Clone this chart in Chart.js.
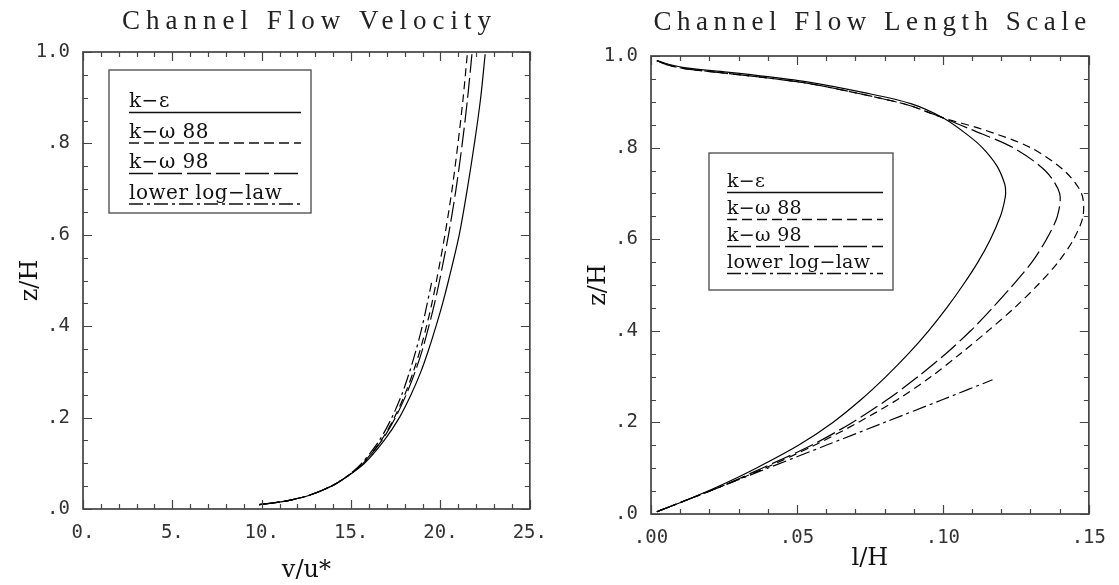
<!DOCTYPE html>
<html><head><meta charset="utf-8">
<script src="https://cdn.jsdelivr.net/npm/chart.js@4.4.1/dist/chart.umd.min.js"></script>
<style>
html,body{margin:0;padding:0;background:#fff;}
#wrap{position:relative;width:1119px;height:585px;overflow:hidden;}
canvas{position:absolute;top:0;}
#c1{left:0;}
#c2{left:560px;}
</style></head><body>
<div id="wrap">
<canvas id="c1" width="560" height="585"></canvas>
<canvas id="c2" width="559" height="585"></canvas>
</div>
<script>
// ---------- Data: Channel Flow Velocity (x = v/u*, y = z/H) ----------
const velZ   = [0.0095, 0.015, 0.02, 0.03, 0.05, 0.07, 0.1, 0.15, 0.2, 0.25, 0.3, 0.35, 0.4, 0.45, 0.5, 0.6, 0.7, 0.8, 0.9, 0.995];
const velKE  = [9.85, 10.97, 11.67, 12.66, 13.9, 14.74, 15.75, 16.85, 17.7, 18.35, 18.9, 19.35, 19.75, 20.12, 20.45, 21.05, 21.5, 21.9, 22.25, 22.5];
const velKW88= [9.85, 10.97, 11.67, 12.66, 13.9, 14.72, 15.65, 16.68, 17.42, 18.0, 18.48, 18.88, 19.22, 19.52, 19.78, 20.25, 20.65, 20.98, 21.27, 21.5];
const velKW98= [9.85, 10.97, 11.67, 12.66, 13.9, 14.73, 15.68, 16.72, 17.48, 18.08, 18.58, 19.0, 19.35, 19.67, 19.95, 20.45, 20.87, 21.22, 21.52, 21.76];
const velLogZ= [0.0095, 0.015, 0.02, 0.03, 0.05, 0.07, 0.1, 0.15, 0.2, 0.25, 0.3, 0.35, 0.4, 0.45, 0.495];
const velLog = [9.85, 10.97, 11.67, 12.66, 13.9, 14.72, 15.59, 16.58, 17.28, 17.83, 18.27, 18.65, 18.98, 19.26, 19.5];

// ---------- Data: Channel Flow Length Scale (x = l/H, y = z/H) ----------
const lenKEZ = [0.005, 0.03, 0.06, 0.1, 0.15, 0.2, 0.25, 0.3, 0.35, 0.4, 0.45, 0.5, 0.55, 0.6, 0.65, 0.68, 0.7, 0.72, 0.76, 0.8, 0.83, 0.865, 0.896, 0.92, 0.943, 0.955, 0.965, 0.974, 0.982, 0.99];
const lenKE  = [0.002, 0.012, 0.023, 0.036, 0.0505, 0.0623, 0.072, 0.0805, 0.0882, 0.0951, 0.1013, 0.1069, 0.112, 0.1163, 0.1197, 0.121, 0.1215, 0.1212, 0.1185, 0.1135, 0.108, 0.1, 0.089, 0.073, 0.054, 0.04, 0.026, 0.012, 0.006, 0.002];
const lenKWZ = [0.005, 0.03, 0.06, 0.1, 0.15, 0.2, 0.25, 0.3, 0.35, 0.4, 0.45, 0.5, 0.55, 0.6, 0.65, 0.7, 0.75, 0.8, 0.84, 0.865, 0.893, 0.917, 0.94, 0.952, 0.962, 0.972, 0.98, 0.99];
const lenKW88= [0.002, 0.012, 0.024, 0.039, 0.056, 0.071, 0.0845, 0.096, 0.106, 0.1155, 0.1245, 0.1325, 0.1395, 0.1448, 0.148, 0.1475, 0.1415, 0.13, 0.1135, 0.1, 0.088, 0.072, 0.054, 0.04, 0.026, 0.012, 0.006, 0.002];
const lenKW98= [0.002, 0.012, 0.024, 0.038, 0.055, 0.069, 0.081, 0.0915, 0.101, 0.1095, 0.117, 0.124, 0.1305, 0.1355, 0.1392, 0.14, 0.135, 0.124, 0.1095, 0.1, 0.088, 0.072, 0.054, 0.04, 0.026, 0.012, 0.006, 0.002];
const lenLogZ= [0.005, 0.05, 0.1, 0.15, 0.2, 0.25, 0.293];
const lenLog = [0.002, 0.02, 0.04, 0.06, 0.08, 0.1, 0.117];

// ---------- Labels and ticks ----------
const seriesLabels = ['k\u2212\u03b5', 'k\u2212\u03c9 88', 'k\u2212\u03c9 98', 'lower log\u2212law'];
const yTickValues = [0, 0.2, 0.4, 0.6, 0.8, 1.0];
const yTickLabels = ['.0', '.2', '.4', '.6', '.8', '1.0'];
const velXTickValues = [0, 5, 10, 15, 20, 25];
const velXTickLabels = ['0.', '5.', '10.', '15.', '20.', '25.'];
const lenXTickValues = [0, 0.05, 0.10, 0.15];
const lenXTickLabels = ['.00', '.05', '.10', '.15'];

const dashes = [[], [8, 5], [20, 5], [14, 4, 3, 4]];
const legendDash = [[], [10, 5], [24, 5], [14, 4, 3, 4]];

function pts(xs, ys) { return xs.map((v, i) => ({ x: v, y: ys[i] })); }

const framePlugin = {
  id: 'frame',
  afterDatasetsDraw(chart, args, o) {
    const { ctx, chartArea: a, scales: { x, y } } = chart;
    ctx.save();
    ctx.strokeStyle = '#444';
    ctx.lineWidth = 1.2;
    ctx.beginPath();
    const nx = Math.round((x.max - x.min) / o.xMinor);
    for (let i = 0; i <= nx; i++) {
      const px = Math.round(x.getPixelForValue(x.min + i * o.xMinor)) + 0.5;
      const len = (i % o.xRatio === 0) ? o.major : o.minor;
      ctx.moveTo(px, a.bottom); ctx.lineTo(px, a.bottom - len);
      ctx.moveTo(px, a.top); ctx.lineTo(px, a.top + len);
    }
    const ny = Math.round((y.max - y.min) / o.yMinor);
    for (let i = 0; i <= ny; i++) {
      const py = Math.round(y.getPixelForValue(y.min + i * o.yMinor)) + 0.5;
      const len = (i % o.yRatio === 0) ? o.major : o.minor;
      ctx.moveTo(a.left, py); ctx.lineTo(a.left + len, py);
      ctx.moveTo(a.right, py); ctx.lineTo(a.right - len, py);
    }
    ctx.stroke();
    ctx.lineWidth = 1.7;
    ctx.strokeRect(a.left, a.top, a.right - a.left, a.bottom - a.top);
    ctx.restore();
  },
  afterDraw(chart, args, o) {
    const { ctx, chartArea: a } = chart;
    ctx.save();
    // title
    ctx.fillStyle = '#222';
    ctx.font = o.titleFont;
    ctx.letterSpacing = o.titleSpacing + 'px';
    ctx.textBaseline = 'alphabetic';
    ctx.textAlign = 'center';
    ctx.fillText(o.title, (a.left + a.right) / 2 + o.titleSpacing / 2, o.titleY);
    ctx.letterSpacing = '0px';
    ctx.textAlign = 'left';
    // legend
    const L = o.legend;
    const bx = a.left + L.dx, by = a.top + L.dy;
    ctx.strokeStyle = '#555';
    ctx.lineWidth = 1.4;
    ctx.strokeRect(bx, by, L.w, L.h);
    ctx.font = L.font;
    ctx.letterSpacing = L.spacing + 'px';
    chart.data.datasets.forEach((ds, i) => {
      const ly = by + L.first + i * L.step;
      ctx.fillStyle = '#111';
      ctx.fillText(ds.label, bx + L.x1, ly - 5);
      ctx.strokeStyle = '#111';
      ctx.lineWidth = 1.4;
      ctx.setLineDash(L.dash[i]);
      ctx.beginPath();
      ctx.moveTo(bx + L.x1, ly + 0.5);
      ctx.lineTo(bx + L.w - L.x2, ly + 0.5);
      ctx.stroke();
    });
    ctx.setLineDash([]);
    ctx.restore();
  }
};

function makeDatasets(list) {
  return list.map((d, i) => ({
    label: seriesLabels[i],
    data: d,
    showLine: true,
    borderColor: '#000',
    borderWidth: 1.2,
    borderDash: dashes[i],
    pointRadius: 0,
    tension: 0.3,
    fill: false
  }));
}

function axisCommon(min, max, tickValues, tickLabels, fixedSize, horizontal, titleText, titlePad) {
  return {
    type: 'linear',
    min: min, max: max,
    grid: { display: false, drawTicks: false },
    border: { display: false },
    afterBuildTicks: s => { s.ticks = tickValues.map(v => ({ value: v })); },
    afterFit: s => { if (horizontal) s.height = fixedSize; else s.width = fixedSize; },
    ticks: {
      autoSkip: false,
      maxRotation: 0,
      padding: 13,
      color: '#333',
      font: { family: '"DejaVu Sans Mono"', size: 19 },
      callback: (v, i) => tickLabels[i]
    },
    title: {
      display: true,
      text: titleText,
      color: '#111',
      font: { family: '"DejaVu Serif"', size: 24 },
      padding: titlePad
    }
  };
}

Chart.defaults.animation = false;

new Chart(document.getElementById('c1'), {
  type: 'scatter',
  data: {
    datasets: makeDatasets([
      pts(velKE, velZ), pts(velKW88, velZ), pts(velKW98, velZ), pts(velLog, velLogZ)
    ])
  },
  options: {
    responsive: false,
    animation: false,
    layout: { padding: { left: 0, right: 30, top: 52, bottom: 0 } },
    plugins: {
      legend: { display: false },
      tooltip: { enabled: false },
      frame: {
        xMinor: 1, xRatio: 5, yMinor: 0.05, yRatio: 4, major: 9, minor: 5,
        title: 'Channel Flow Velocity', titleFont: '27px "Liberation Serif"', titleSpacing: 6, titleY: 29,
        legend: { dx: 26, dy: 18, w: 202, h: 143, first: 42, step: 30.5, x1: 20, x2: 10, font: '20px "DejaVu Serif"', spacing: 0.5, dash: legendDash }
      }
    },
    scales: {
      x: axisCommon(0, 25, velXTickValues, velXTickLabels, 76, true, 'v/u*', { top: 0, bottom: 0 }),
      y: axisCommon(0, 1, yTickValues, yTickLabels, 83, false, 'z/H', { top: 16, bottom: 0 })
    }
  },
  plugins: [framePlugin]
});

new Chart(document.getElementById('c2'), {
  type: 'scatter',
  data: {
    datasets: makeDatasets([
      pts(lenKE, lenKEZ), pts(lenKW88, lenKWZ), pts(lenKW98, lenKWZ), pts(lenLog, lenLogZ)
    ])
  },
  options: {
    responsive: false,
    animation: false,
    layout: { padding: { left: 0, right: 22, top: 56, bottom: 0 } },
    plugins: {
      legend: { display: false },
      tooltip: { enabled: false },
      frame: {
        xMinor: 0.01, xRatio: 5, yMinor: 0.05, yRatio: 4, major: 9, minor: 5,
        title: 'Channel Flow Length Scale', titleFont: '27px "Liberation Serif"', titleSpacing: 5.5, titleY: 30,
        legend: { dx: 58, dy: 97, w: 184, h: 137, first: 39, step: 27, x1: 18, x2: 10, font: '19px "DejaVu Serif"', spacing: 0.3, dash: legendDash }
      }
    },
    scales: {
      x: axisCommon(0, 0.15, lenXTickValues, lenXTickLabels, 71, true, 'l/H', { top: 0, bottom: 12 }),
      y: axisCommon(0, 1, yTickValues, yTickLabels, 91, false, 'z/H', { top: 24, bottom: 0 })
    }
  },
  plugins: [framePlugin]
});
</script>
</body></html>
